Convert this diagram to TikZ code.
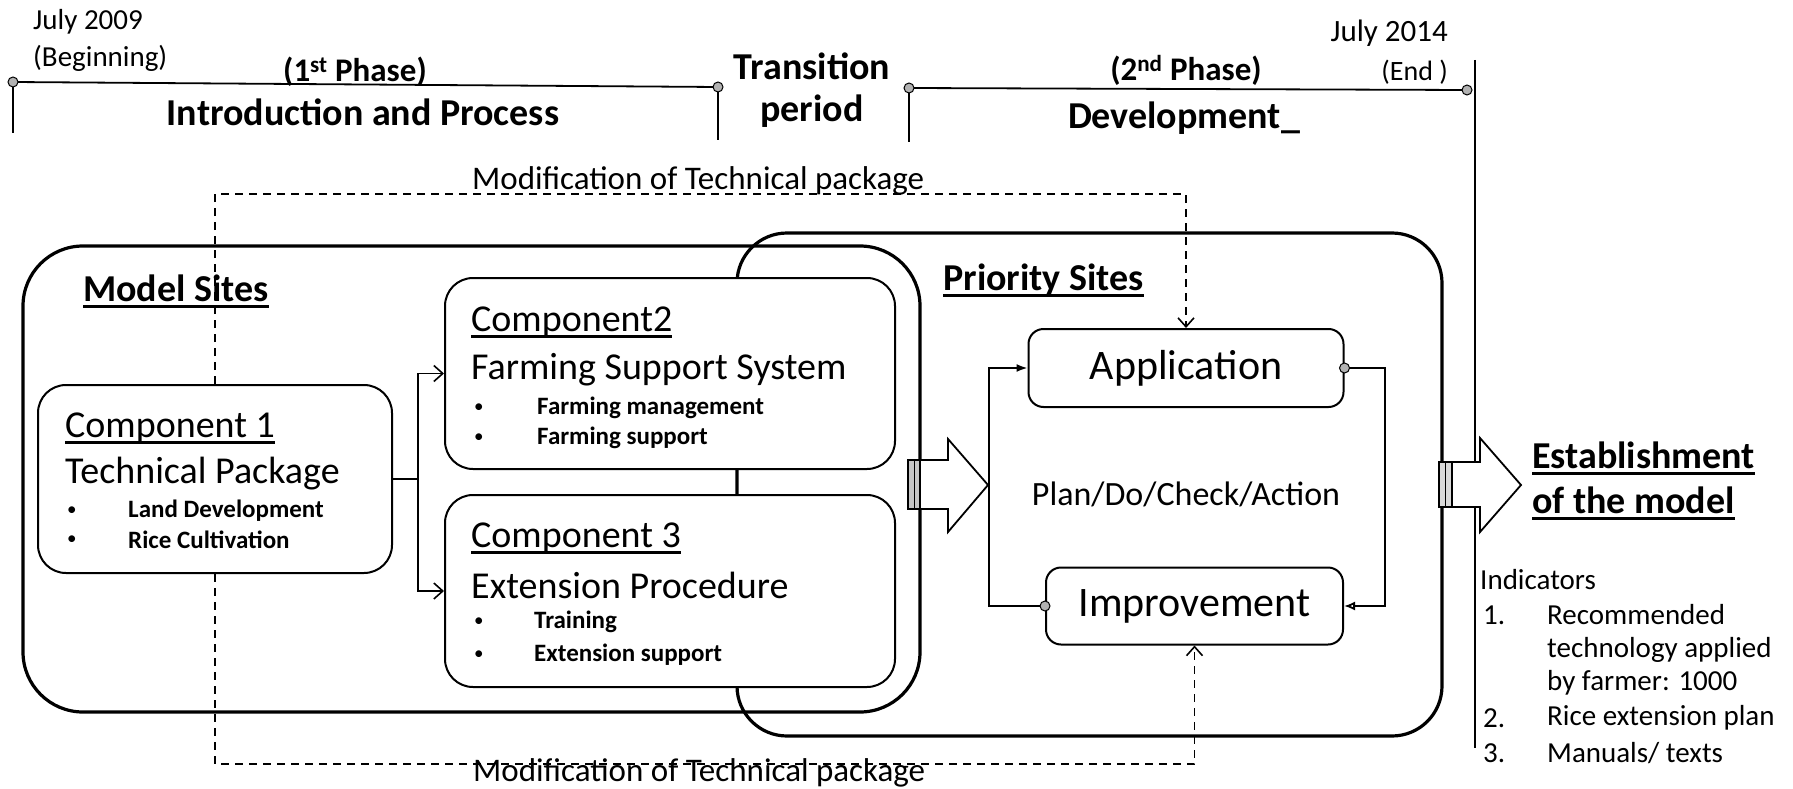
\documentclass[tikz,border=0pt]{standalone}
\usepackage{fontspec}
\setmainfont{Carlito}
\usetikzlibrary{arrows.meta}
\newcommand{\fsz}[2]{\fontsize{#1}{#2}\selectfont}
\newcommand{\ulx}[1]{\setbox0=\hbox{#1}\rlap{\rule[-0.17em]{\wd0}{0.06em}}\box0}
\begin{document}
\begin{tikzpicture}[x=1pt,y=-1pt,
  bigbox/.style={draw, line width=3.2pt},
  cbox/.style={draw, line width=2pt, fill=white, rounded corners=28pt, inner sep=0pt},
  pbox/.style={draw, line width=2pt, fill=white, rounded corners=15pt, inner sep=0pt, font=\fsz{42}{48}},
  conn/.style={line width=1.8pt},
  modline/.style={line width=1.6pt, dash pattern=on 8pt off 6pt},
  tline/.style={line width=1.8pt},
  dotc/.style={circle, fill=gray!60, draw=black, line width=1pt, minimum size=10pt, inner sep=0pt},
  lbl/.style={inner sep=0pt},
  small/.style={lbl, font=\fsz{29}{34}},
  phase/.style={lbl, font=\fsz{33}{38}\bfseries},
  big/.style={lbl, font=\fsz{38}{44}\bfseries},
  comp/.style={lbl, anchor=west, font=\fsz{38}{44}},
  item/.style={lbl, anchor=west, font=\fsz{25}{30}\bfseries},
  bul/.style={lbl, anchor=west, font=\fsz{19}{24}},
  modt/.style={lbl, anchor=base west, font=\fsz{33}{38}},
  ind/.style={lbl, anchor=west, font=\fsz{29}{34}},
  fatarrow/.style={draw, line width=1.8pt, fill=white},
  barb/.style={-{Straight Barb[length=9pt,width=16pt,line width=1.6pt]}}
]
\useasboundingbox (0,0) rectangle (1793,789);

% ---------- timeline ----------
\coordinate (d1) at (13,82);
\coordinate (d2) at (718,87);
\coordinate (d3) at (909,88);
\coordinate (d4) at (1467,90);
\coordinate (v1) at (13,133);
\coordinate (v2) at (718,140);
\coordinate (v3) at (909,142);
\coordinate (e1) at (1475,60);
\coordinate (e2) at (1475,748);
\draw[tline] (d1) -- (d2);
\draw[tline] (d3) -- (d4);
\draw[line width=1.5pt] (d1) -- (v1);
\draw[line width=1.5pt] (d2) -- (v2);
\draw[line width=1.5pt] (d3) -- (v3);
\draw[line width=1.8pt] (e1) -- (e2);
\node[dotc] (p1) at (d1) {};
\node[dotc] (p2) at (d2) {};
\node[dotc] (p3) at (d3) {};
\node[dotc] (p4) at (d4) {};

\node[small, anchor=west] (j09) at (33,22) {July 2009};
\node[small, anchor=west] (beg) at (33,58) {(Beginning)};
\node[phase] (ph1) at (355,72) {(1\textsuperscript{st} Phase)};
\node[big] (intro) at (363,112) {Introduction and Process};
\node[big] (trans) at (812,66) {Transition};
\node[big] (per) at (812,111) {period};
\node[phase] (ph2) at (1186,70) {(2\textsuperscript{nd} Phase)};
\node[lbl, anchor=east, font=\fsz{31}{36}] (j14) at (1448,33) {July 2014};
\node[lbl, anchor=east, font=\fsz{28}{33}] (end) at (1448,72) {(End )};
\node[big] (dev) at (1184,118) {Development\_};

% ---------- big site boxes ----------
\draw[bigbox, rounded corners=50pt] (737,233) rectangle (1442,736);
\draw[bigbox, rounded corners=60pt] (23,246) rectangle (920,712);

\node[big, anchor=west] (ms) at (83,291) {\ulx{Model Sites}};
\node[big, anchor=east] (ps) at (1144,280) {\ulx{Priority Sites}};

% ---------- components ----------
\node[cbox, minimum width=354pt, minimum height=188pt] (c1) at (215,479) {};
\node[cbox, minimum width=450pt, minimum height=191pt] (c2) at (670,373.5) {};
\node[cbox, minimum width=450pt, minimum height=192pt] (c3) at (670,591) {};

\node[comp] (c1a) at (65,428) {\ulx{Component 1}};
\node[comp] (c1b) at (65,474) {Technical Package};
\node[bul] (c1d1) at (67,511) {\textbullet};
\node[bul] (c1d2) at (67,540) {\textbullet};
\node[item] (c1i1) at (128,511) {Land Development};
\node[item] (c1i2) at (128,540) {Rice Cultivation};

\node[comp] (c2a) at (471,322) {\ulx{Component2}};
\node[comp] (c2b) at (471,370) {Farming Support System};
\node[bul] (c2d1) at (474,408) {\textbullet};
\node[bul] (c2d2) at (474,438) {\textbullet};
\node[item] (c2i1) at (537,408) {Farming management};
\node[item] (c2i2) at (537,438) {Farming support};

\node[comp] (c3a) at (471,538) {\ulx{Component 3}};
\node[comp] (c3b) at (471,585) {Extension Procedure};
\node[bul] (c3d1) at (474,622) {\textbullet};
\node[bul] (c3d2) at (474,655) {\textbullet};
\node[item] (c3i1) at (534,622) {Training};
\node[item] (c3i2) at (534,655) {Extension support};

\coordinate (fk) at (418,479);
\draw[conn] (c1.east) -- (fk);
\draw[conn, barb] (fk) |- (c2.west);
\draw[conn, barb] (fk) |- (c3.west);

% ---------- priority contents ----------
\node[pbox, minimum width=315pt, minimum height=78pt] (app) at (1186,368) {Application};
\node[pbox, minimum width=297pt, minimum height=77pt] (imp) at (1194.5,606) {Improvement};
\node[lbl, font=\fsz{34}{40}] (pdca) at (1186,494) {Plan/Do/Check/Action};

\coordinate (lx) at (989,0);
\coordinate (rx) at (1385,0);
\draw[conn, -{Latex[length=11pt,width=8pt]}] (imp.west) -- (imp.west -| lx) |- (app.west);
\draw[conn, -{Latex[open,length=11pt,width=9pt]}] (app.east) -- (app.east -| rx) |- (imp.east);
\node[dotc] (dapp) at (app.east) {};
\node[dotc] (dimp) at (imp.west) {};

% ---------- modification loops ----------
\coordinate (tt) at (0,194);
\coordinate (bb) at (0,764);
\draw[modline, barb] (c1.north) -- (c1.north |- tt) -| (app.north);
\draw[modline, barb] (c1.south) -- (c1.south |- bb) -| (imp.south);
\node[modt] (mtop) at (472,189) {Modification of Technical package};
\node[modt] (mbot) at (473,781) {Modification of Technical package};

% ---------- fat arrows ----------
\draw[fatarrow] (908,460) -- (948,460) -- (948,439) -- (988,485) -- (948,532) -- (948,509) -- (908,509) -- cycle;
\draw[line width=1.2pt, fill=gray!45] (908,460) rectangle (920,509);
\draw[line width=0.8pt] (914,460) -- (914,509);
\draw[fatarrow] (1439,462) -- (1480,462) -- (1480,438) -- (1521,485) -- (1480,532) -- (1480,507) -- (1439,507) -- cycle;
\draw[line width=1.2pt, fill=gray!30] (1439,462) rectangle (1452,507);
\draw[line width=0.8pt] (1445.5,462) -- (1445.5,507);

% ---------- establishment ----------
\node[big, anchor=west] (est1) at (1532,458) {\ulx{Establishment}};
\node[big, anchor=west] (est2) at (1532,503) {\ulx{of the model}};
\node[ind] (indh) at (1480,580) {Indicators};
\node[ind] (n1) at (1483,615) {1.};
\node[ind] (t1a) at (1547,615) {Recommended};
\node[ind] (t1b) at (1547,650) {technology applied};
\node[ind] (t1c) at (1547,683) {by farmer: 1000};
\node[ind] (n2) at (1483,718) {2.};
\node[ind] (t2) at (1547,718) {Rice extension plan};
\node[ind] (n3) at (1483,753) {3.};
\node[ind] (t3) at (1547,753) {Manuals/ texts};
\end{tikzpicture}
\end{document}
